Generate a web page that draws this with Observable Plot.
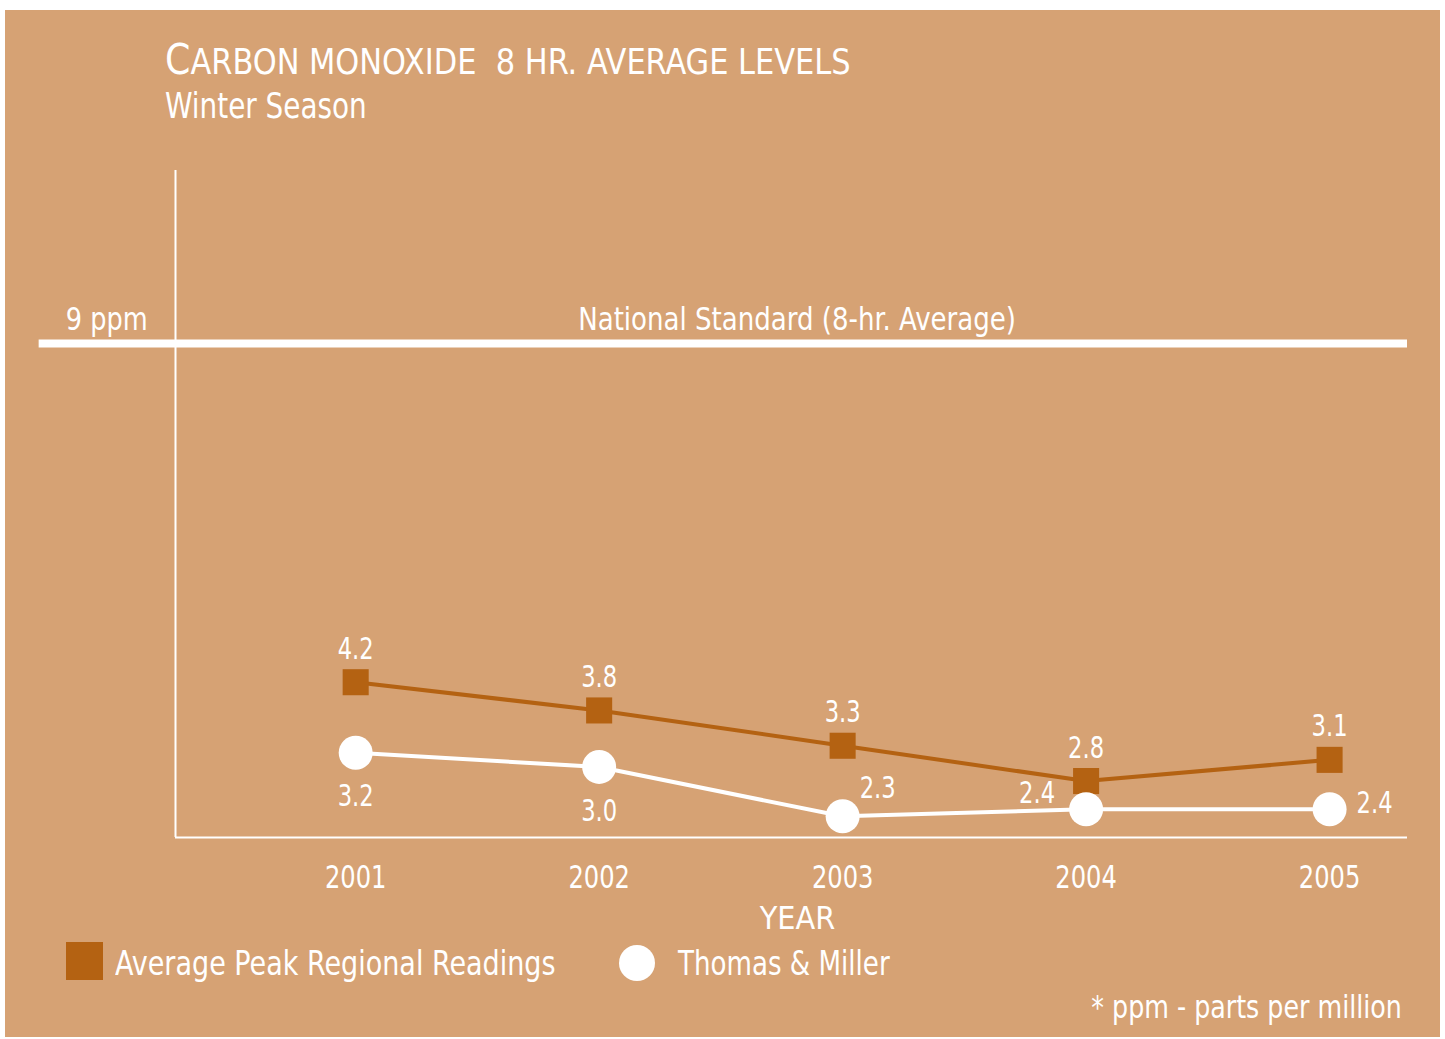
<!DOCTYPE html>
<html><head><meta charset="utf-8">
<script src="https://cdn.jsdelivr.net/npm/d3@7"></script>
<script src="https://cdn.jsdelivr.net/npm/@observablehq/plot@0.6"></script>
<style>
body{margin:0;background:#fff;width:1445px;height:1039px;position:relative;overflow:hidden;font-family:"Liberation Sans Narrow","DejaVu Sans Condensed",sans-serif;color:#fff;}
#panel{position:absolute;left:5px;top:10px;width:1435px;height:1027px;background:#D6A274;}
.abs{position:absolute;white-space:nowrap;line-height:1;}
.sq{transform-origin:0 50%;}
.sqr{transform-origin:100% 50%;}
#chart{position:absolute;left:0;top:140px;}
</style></head><body>
<div id="panel"></div>
<div class="abs sq" style="left:165px;top:43.5px;font-size:36px;transform:scaleX(0.94)"><span style="font-size:43px;line-height:0">C</span>ARBON MONOXIDE&nbsp; 8 HR. AVERAGE LEVELS</div>
<div class="abs sq" style="left:165px;top:87.5px;font-size:36px;transform:scaleX(0.86)">Winter Season</div>
<div id="chart"></div>
<div class="abs" style="left:66px;top:942px;width:37px;height:38px;background:#B46212"></div>
<div class="abs sq" style="left:115px;top:947px;font-size:33px;transform:scaleX(0.91)">Average Peak Regional Readings</div>
<div class="abs" style="left:619px;top:945px;width:36px;height:36px;border-radius:50%;background:#fff"></div>
<div class="abs sq" style="left:678px;top:947px;font-size:33px;transform:scaleX(0.88)">Thomas &amp; Miller</div>
<div class="abs sqr" style="right:43px;top:991px;font-size:32px;transform:scaleX(0.88)">* ppm - parts per million</div>
<script>
const years = [2001, 2002, 2003, 2004, 2005];
const regional = [4.2, 3.8, 3.3, 2.8, 3.1];
const thomasMiller = [3.2, 3.0, 2.3, 2.4, 2.4];
const standard = 9;
const standardLabel = "National Standard (8-hr. Average)";
const standardUnit = "9 ppm";

const ORANGE = "#B46212";
const FONT = '"Liberation Sans Narrow","DejaVu Sans Condensed",sans-serif';
const reg = years.map((year, i) => ({year, value: regional[i]}));
const tm = years.map((year, i) => ({year, value: thomasMiller[i]}));
const fmt = d => d.value.toFixed(1);
const X0 = 2000.26, X1 = 2005.32, XL = 1999.70;

const plot = Plot.plot({
  width: 1445, height: 800,
  marginLeft: 175, marginRight: 38, marginTop: 30, marginBottom: 103,
  x: {domain: [X0, X1]},
  y: {domain: [2, 11.45], axis: null},
  style: {background: "transparent", color: "#fff", fontFamily: FONT, fontSize: "32px", overflow: "visible"},
  marks: [
    Plot.axisX({ticks: years, tickFormat: "d", tickSize: 0, tickPadding: 28, label: null, fontSize: 32}),
    Plot.ruleX([X0], {stroke: "#fff", strokeWidth: 2}),
    Plot.ruleY([2], {stroke: "#fff", strokeWidth: 2}),
    Plot.ruleY([standard], {x1: XL, x2: X1, stroke: "#fff", strokeWidth: 8}),
    Plot.text([standardUnit], {x: 2000.146, y: standard, textAnchor: "end", lineAnchor: "bottom", dy: -13, fontSize: 32, fill: "#fff"}),
    Plot.text([standardLabel], {x: 2002.813, y: standard, lineAnchor: "bottom", dy: -13, fontSize: 32, fill: "#fff"}),
    Plot.line(reg, {x: "year", y: "value", stroke: ORANGE, strokeWidth: 4}),
    Plot.line(tm, {x: "year", y: "value", stroke: "#fff", strokeWidth: 4}),
    Plot.dot(reg, {x: "year", y: "value", symbol: "square", r: 14.7, fill: ORANGE}),
    Plot.dot(tm, {x: "year", y: "value", r: 17, fill: "#fff"}),
    Plot.text(reg, {x: "year", y: "value", text: fmt, dy: -33, fontSize: 30, fill: "#fff"}),
    Plot.text(tm, {filter: (d, i) => i < 2, x: "year", y: "value", text: fmt, dy: 44, fontSize: 30, fill: "#fff"}),
    Plot.text(tm, {filter: (d, i) => i === 2, x: "year", y: "value", text: fmt, dx: 35, dy: -28, fontSize: 30, fill: "#fff"}),
    Plot.text(tm, {filter: (d, i) => i === 3, x: "year", y: "value", text: fmt, dx: -49, dy: -16, fontSize: 30, fill: "#fff"}),
    Plot.text(tm, {filter: (d, i) => i === 4, x: "year", y: "value", text: fmt, dx: 45, dy: -6, fontSize: 30, fill: "#fff"}),
    Plot.text(["YEAR"], {frameAnchor: "bottom", dx: 6, dy: 91, lineAnchor: "bottom", fontSize: 32, fill: "#fff"})
  ]
});
document.getElementById("chart").append(plot);
// condense the glyphs to mimic the reference's narrow typeface
plot.querySelectorAll("text").forEach(t => {
  const s = t.textContent.trim();
  if (s === "YEAR") return;
  const f = /^[\d.]+$/.test(s) ? 0.84 : (s === standardUnit ? 0.89 : 0.905);
  const L = t.getComputedTextLength();
  t.setAttribute("textLength", (L * f).toFixed(1));
  t.setAttribute("lengthAdjust", "spacingAndGlyphs");
});
</script>
</body></html>
